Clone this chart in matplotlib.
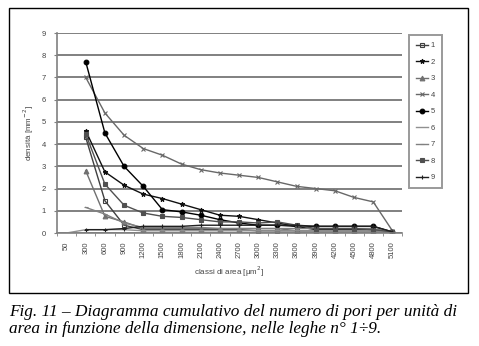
import numpy as np
import matplotlib
matplotlib.use("Agg")
import matplotlib.pyplot as plt
from matplotlib.patches import Rectangle

nan = np.nan

# area classes (um^2)
classes = ["50", "300", "600", "900", "1200", "1500", "1800", "2100", "2400",
           "2700", "3000", "3300", "3600", "3900", "4200", "4500", "4800", "5100"]

# cumulative pore density (mm^-2) for alloys 1..9
s1 = [nan, 4.3, 1.45, 0.35, 0.15, 0.15, 0.15, 0.15, 0.15, 0.15, 0.1, 0.1, 0.1, 0.1, 0.1, 0.1, 0.1, 0.05]
s2 = [nan, 4.6, 2.75, 2.15, 1.75, 1.55, 1.3, 1.05, 0.8, 0.75, 0.6, 0.45, 0.3, 0.15, 0.15, 0.15, 0.15, 0.05]
s3 = [nan, 2.8, 0.75, 0.5, 0.2, 0.2, 0.2, 0.2, 0.2, 0.2, 0.2, 0.2, 0.1, 0.1, 0.1, 0.1, 0.1, 0.05]
s4 = [nan, 7.0, 5.4, 4.4, 3.8, 3.5, 3.1, 2.85, 2.7, 2.6, 2.5, 2.3, 2.1, 2.0, 1.9, 1.6, 1.4, 0.1]
s5 = [nan, 7.7, 4.5, 3.0, 2.1, 1.05, 0.95, 0.8, 0.6, 0.45, 0.35, 0.35, 0.3, 0.3, 0.3, 0.3, 0.3, 0.05]
s6 = [0.0, 0.15, 0.15, 0.15, 0.1, 0.1, 0.1, 0.1, 0.1, 0.1, 0.1, 0.1, 0.1, 0.1, 0.1, 0.1, 0.1, 0.05]
s7 = [nan, 1.15, 0.85, 0.45, 0.25, 0.25, 0.25, 0.25, 0.2, 0.2, 0.2, 0.2, 0.2, 0.2, 0.2, 0.2, 0.2, 0.05]
s8 = [nan, 4.45, 2.2, 1.25, 0.9, 0.75, 0.7, 0.6, 0.5, 0.5, 0.45, 0.5, 0.35, 0.2, 0.2, 0.2, 0.15, 0.05]
s9 = [nan, 0.15, 0.15, 0.2, 0.3, 0.3, 0.3, 0.35, 0.35, 0.35, 0.35, 0.35, 0.35, 0.3, 0.3, 0.3, 0.3, 0.05]

series = [s1, s2, s3, s4, s5, s6, s7, s8, s9]
labels = ["1", "2", "3", "4", "5", "6", "7", "8", "9"]
colors = ["#404040", "#101010", "#707070", "#686868", "#000000",
          "#909090", "#808080", "#505050", "#202020"]
markers = ["s", "*", "^", "x", "o", "", "_", "s", "+"]
mfill = ["none", "full", "full", "full", "full", "full", "full", "full", "full"]

plt.rcParams["font.family"] = ["Liberation Sans", "DejaVu Sans"]

fig = plt.figure(figsize=(4.79, 3.46), dpi=100)
ax = fig.add_axes([57 / 479, 1 - 233 / 346, 345 / 479, 200 / 346])

x = np.arange(len(classes))
for ys, lab, c, m, mf in zip(series, labels, colors, markers, mfill):
    ax.plot(x, ys, color=c, lw=1.0, marker=m, ms=3.4, mew=0.8,
            fillstyle=mf, label=lab)

ax.set_xlim(-0.5, len(classes) - 0.5)
ax.set_ylim(0, 9)
ax.set_yticks(range(10))
ax.set_yticklabels([str(i) for i in range(10)], fontsize=5.5, color="#444444")
ax.yaxis.grid(True, color="#808080", lw=1.4)
ax.set_axisbelow(True)

ax.set_xticks(x)
ax.set_xticklabels(classes, rotation=90, fontsize=5.5, color="#444444")
ax.tick_params(axis="x", length=0, pad=6)
ax.set_xticks(np.arange(-0.5, len(classes)), minor=True)
ax.tick_params(axis="x", which="minor", length=2, color="#808080")
ax.tick_params(axis="y", length=2, color="#808080", pad=6)

for side in ["top", "right"]:
    ax.spines[side].set_visible(False)
for side in ["left", "bottom"]:
    ax.spines[side].set_color("#808080")
    ax.spines[side].set_linewidth(1.2)

ax.set_ylabel("densità [mm$^{-2}$]", fontsize=5.8, color="#444444", labelpad=4)
ax.set_xlabel("classi di area [μm$^2$]", fontsize=5.8, color="#444444", labelpad=5)

leg = fig.legend(loc="upper left", bbox_to_anchor=(409 / 479, 1 - 35 / 346),
                 fontsize=5.5, frameon=True, fancybox=False, labelspacing=1.2,
                 handlelength=1.6, handletextpad=0.3, borderpad=0.9,
                 borderaxespad=0, labelcolor="#444444")
leg.get_frame().set_edgecolor("#808080")
leg.get_frame().set_linewidth(1.4)

# outer chart frame
fig.patches.append(Rectangle((9 / 479, 1 - 293 / 346), 459 / 479, 285 / 346,
                             transform=fig.transFigure, fill=False,
                             edgecolor="black", lw=1.0))

caption = ("Fig. 11 – Diagramma cumulativo del numero di pori per unità di\n"
           "area in funzione della dimensione, nelle leghe n° 1÷9.")
fig.text(9 / 479, 1 - 304 / 346, caption, ha="left", va="top",
         fontsize=12.4, style="italic", family="Liberation Serif",
         linespacing=1.12)

fig.savefig("out.png", dpi=100)
